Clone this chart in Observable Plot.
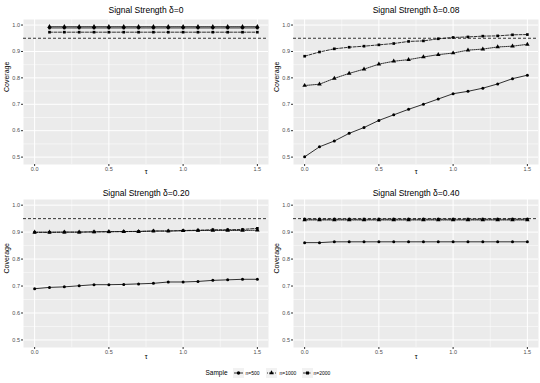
<!DOCTYPE html>
<html><head><meta charset="utf-8">
<script src="https://cdn.jsdelivr.net/npm/d3@7"></script>
<script src="https://cdn.jsdelivr.net/npm/@observablehq/plot@0.6"></script>
<style>
body{margin:0;background:#fff;font-family:"Liberation Sans",Arial,sans-serif;}
#wrap{position:relative;width:540px;height:383px;overflow:hidden;}
.pan{position:absolute;}
#legend{position:absolute;left:0;top:366px;width:540px;height:14px;}
#legend span{position:absolute;top:0;line-height:14px;white-space:nowrap;}
#legend svg{position:absolute;top:2px;}
</style></head>
<body><div id="wrap"><div id="legend"></div></div>
<script>
// ---- data ----
const samples = ["n=500", "n=1000", "n=2000"];
const titles = ["Signal Strength δ=0", "Signal Strength δ=0.08", "Signal Strength δ=0.20", "Signal Strength δ=0.40"];
const tauA = [0.1,0.2,0.3,0.4,0.5,0.6,0.7,0.8,0.9,1.0,1.1,1.2,1.3,1.4,1.5];
const tauB = [0.0,0.1,0.2,0.3,0.4,0.5,0.6,0.7,0.8,0.9,1.0,1.1,1.2,1.3,1.4,1.5];
const xTicks = [0, 0.5, 1.0, 1.5];
const yTicks = [0.5, 0.6, 0.7, 0.8, 0.9, 1.0];
const nominal = 0.95;

// δ = 0
const d0_500  = [0.989,0.989,0.989,0.989,0.989,0.989,0.989,0.989,0.989,0.989,0.989,0.989,0.989,0.989,0.989];
const d0_1000 = [0.994,0.994,0.994,0.994,0.994,0.994,0.994,0.994,0.994,0.994,0.994,0.994,0.994,0.994,0.994];
const d0_2000 = [0.973,0.973,0.973,0.973,0.973,0.973,0.973,0.973,0.973,0.973,0.973,0.973,0.973,0.973,0.973];
// δ = 0.08
const d1_500  = [0.501,0.539,0.561,0.590,0.612,0.639,0.660,0.681,0.700,0.720,0.740,0.749,0.761,0.777,0.797,0.810];
const d1_1000 = [0.771,0.776,0.798,0.817,0.833,0.852,0.863,0.869,0.879,0.888,0.894,0.905,0.909,0.917,0.920,0.927];
const d1_2000 = [0.882,0.898,0.910,0.916,0.920,0.925,0.930,0.938,0.940,0.948,0.953,0.955,0.958,0.959,0.963,0.964];
// δ = 0.20
const d2_500  = [0.690,0.695,0.697,0.701,0.705,0.705,0.706,0.708,0.710,0.715,0.715,0.717,0.721,0.723,0.725,0.725];
const d2_1000 = [0.900,0.900,0.900,0.900,0.901,0.902,0.902,0.902,0.904,0.904,0.905,0.906,0.906,0.906,0.906,0.907];
const d2_2000 = [0.899,0.899,0.900,0.900,0.901,0.901,0.902,0.903,0.904,0.904,0.906,0.907,0.909,0.909,0.910,0.914];
// δ = 0.40
const d3_500  = [0.861,0.861,0.864,0.864,0.864,0.864,0.864,0.864,0.864,0.864,0.864,0.864,0.864,0.864,0.864,0.864];
const d3_1000 = [0.945,0.945,0.945,0.945,0.945,0.945,0.945,0.945,0.945,0.945,0.945,0.945,0.945,0.945,0.945,0.945];
const d3_2000 = [0.948,0.948,0.948,0.948,0.948,0.948,0.948,0.948,0.948,0.948,0.948,0.948,0.948,0.948,0.948,0.948];

const panelData = [
  [tauA, [d0_500, d0_1000, d0_2000]],
  [tauB, [d1_500, d1_1000, d1_2000]],
  [tauB, [d2_500, d2_1000, d2_2000]],
  [tauB, [d3_500, d3_1000, d3_2000]]
];

// ---- styles ----
const FONT = '"Liberation Sans", Arial, sans-serif';
const dash = {"n=500": null, "n=1000": "1,1", "n=2000": "3,1.5"};
const sym = {"n=500": "circle", "n=1000": "triangle", "n=2000": "square"};
const symR = {"n=500": 1.5, "n=1000": 1.7, "n=2000": 1.5};

const layout = [
  {left: 0,   top: 0,   height: 180, mt: 19, mb: 16, tdy: -12.5, xdy: 9.5},
  {left: 270, top: 0,   height: 180, mt: 19, mb: 16, tdy: -12.5, xdy: 9.5},
  {left: 0,   top: 180, height: 182, mt: 19, mb: 15, tdy: -9.5,  xdy: 11},
  {left: 270, top: 180, height: 182, mt: 19, mb: 15, tdy: -9.5,  xdy: 11}
];

function panel(i) {
  const [xs, series] = panelData[i];
  const L = layout[i];
  const rows = [];
  series.forEach((vals, s) => vals.forEach((v, k) => rows.push({tau: xs[k], cov: v, sample: samples[s]})));
  const marks = [
    Plot.frame({fill: "#EBEBEB", stroke: null}),
    Plot.gridX([0.25, 0.75, 1.25], {stroke: "#fff", strokeOpacity: 1, strokeWidth: 0.5}),
    Plot.gridY([0.55, 0.65, 0.75, 0.85, 0.95], {stroke: "#fff", strokeOpacity: 1, strokeWidth: 0.5}),
    Plot.gridX(xTicks, {stroke: "#fff", strokeOpacity: 1, strokeWidth: 1}),
    Plot.gridY(yTicks, {stroke: "#fff", strokeOpacity: 1, strokeWidth: 1}),
    Plot.ruleY([nominal], {stroke: "#000", strokeWidth: 0.8, strokeDasharray: "3,2"}),
    Plot.axisX(xTicks, {tickSize: 2, tickPadding: 1, fontSize: 5.5, fill: "#4D4D4D", stroke: "#333", tickFormat: d3.format(".1f"), label: null}),
    Plot.axisY(yTicks, {tickSize: 2, tickPadding: 1.5, fontSize: 5.5, fill: "#4D4D4D", stroke: "#333", tickFormat: d3.format(".1f"), label: null}),
    Plot.text([titles[i]], {frameAnchor: "top", dy: L.tdy, fontSize: 8.5, fill: "#000"}),
    Plot.text(["Coverage"], {frameAnchor: "left", dx: -17, rotate: -90, fontSize: 7, fill: "#000"}),
    Plot.text(["τ"], {frameAnchor: "bottom", dy: L.xdy, fontSize: 7, fill: "#000"})
  ];
  samples.forEach(s => {
    const d = rows.filter(r => r.sample === s);
    marks.push(Plot.line(d, {x: "tau", y: "cov", stroke: "#000", strokeWidth: 0.8, strokeDasharray: dash[s]}));
    marks.push(Plot.dot(d, {x: "tau", y: "cov", symbol: () => sym[s], r: symR[s], fill: "#000", stroke: "none"}));
  });
  const svg = Plot.plot({
    width: 270, height: L.height,
    marginLeft: 23, marginRight: 2, marginTop: L.mt, marginBottom: L.mb,
    style: {fontFamily: FONT, background: "transparent", overflow: "visible"},
    x: {domain: [-0.075, 1.575], axis: null},
    y: {domain: [0.472, 1.021], axis: null},
    symbol: {type: "identity"},
    marks
  });
  const div = document.createElement("div");
  div.className = "pan";
  div.style.left = L.left + "px";
  div.style.top = L.top + "px";
  div.appendChild(svg);
  return div;
}

const wrap = document.getElementById("wrap");
for (let i = 0; i < 4; i++) wrap.appendChild(panel(i));

// ---- legend ----
const leg = document.getElementById("legend");
const addText = (t, x, fs) => { const s = document.createElement("span"); s.textContent = t; s.style.left = x + "px"; s.style.fontSize = fs + "px"; s.style.color = "#000"; leg.appendChild(s); };
addText("Sample", 205.5, 6.5);
const keyX = [232.5, 266, 301.5];
const labX = [245.5, 279.5, 313.5];
const ns = "http://www.w3.org/2000/svg";
samples.forEach((s, k) => {
  const svg = document.createElementNS(ns, "svg");
  svg.setAttribute("width", 11); svg.setAttribute("height", 10);
  svg.style.left = keyX[k] + "px";
  const rect = document.createElementNS(ns, "rect");
  rect.setAttribute("width", 11); rect.setAttribute("height", 10); rect.setAttribute("fill", "#F2F2F2");
  svg.appendChild(rect);
  const ln = document.createElementNS(ns, "line");
  ln.setAttribute("x1", 1); ln.setAttribute("x2", 10); ln.setAttribute("y1", 5); ln.setAttribute("y2", 5);
  ln.setAttribute("stroke", "#000"); ln.setAttribute("stroke-width", 0.8);
  if (dash[s]) ln.setAttribute("stroke-dasharray", dash[s]);
  svg.appendChild(ln);
  const p = document.createElementNS(ns, "path");
  p.setAttribute("transform", "translate(5.5,5)");
  p.setAttribute("d", d3.symbol(s === "n=500" ? d3.symbolCircle : s === "n=1000" ? d3.symbolTriangle : d3.symbolSquare, 9)());
  p.setAttribute("fill", "#000");
  svg.appendChild(p);
  leg.appendChild(svg);
  addText(s, labX[k], 5);
});
</script></body></html>
